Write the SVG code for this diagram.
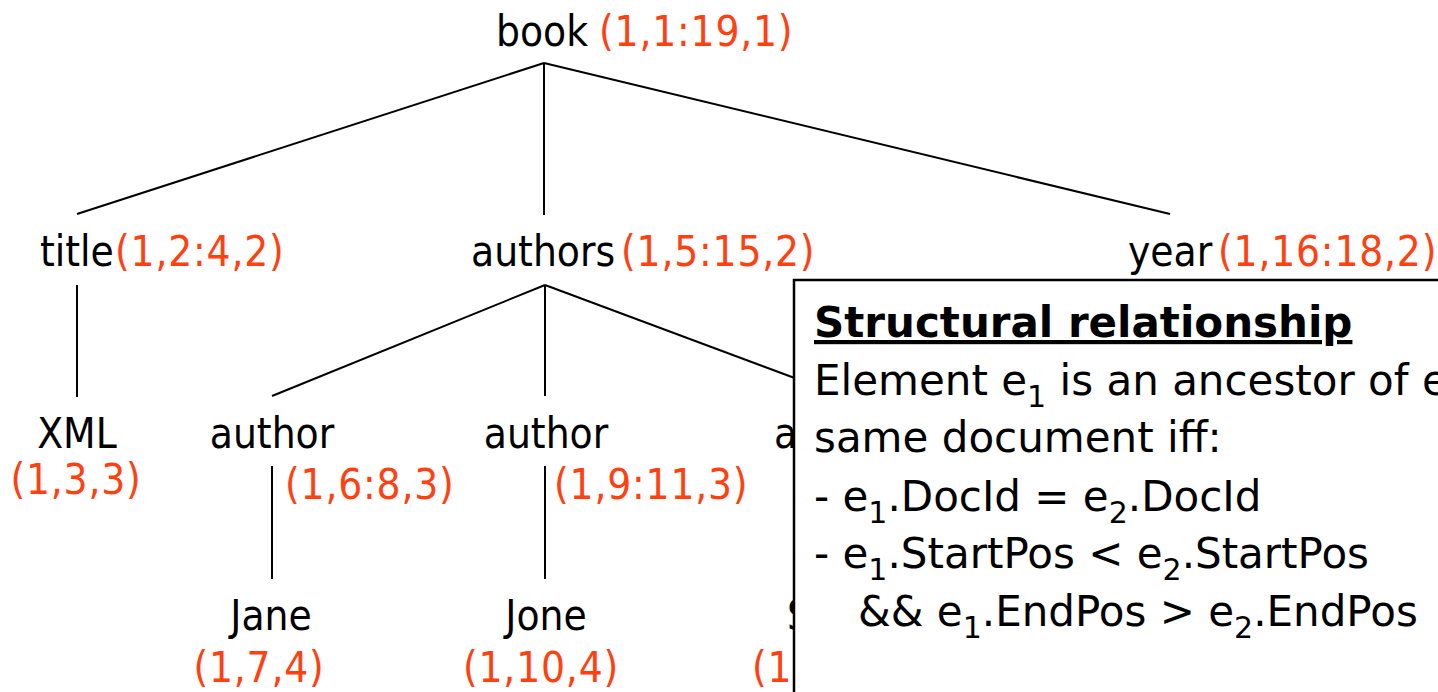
<svg xmlns="http://www.w3.org/2000/svg" width="1438" height="692" viewBox="0 0 1438 692">
  <style>
    text { font-family: "DejaVu Sans Condensed", "DejaVu Sans", "Liberation Sans", sans-serif; font-stretch: condensed; font-size: 42px; fill: #000; }
    .pos { fill: #FF4111; letter-spacing: 0.8px; }
    .edge { stroke: #000; stroke-width: 2; fill: none; }
    .panel { fill: #fff; stroke: #000; stroke-width: 2.5; }
    .panel-text text { font-family: "DejaVu Sans", "Liberation Sans", sans-serif; font-stretch: normal; }
    .sub { font-size: 30px; }
    .head { font-weight: bold; text-decoration: underline; }
  </style>

  <!-- tree edges -->
  <g id="connectors">
    <line class="edge" x1="544" y1="63" x2="77" y2="214"/>
    <line class="edge" x1="544" y1="63" x2="544" y2="215"/>
    <line class="edge" x1="544" y1="63" x2="1170" y2="214"/>
    <line class="edge" x1="77" y1="285" x2="77" y2="397"/>
    <line class="edge" x1="545" y1="285" x2="272" y2="396"/>
    <line class="edge" x1="545" y1="285" x2="545" y2="396"/>
    <line class="edge" x1="545" y1="285" x2="843" y2="396"/>
    <line class="edge" x1="272" y1="466" x2="272" y2="579"/>
    <line class="edge" x1="545" y1="466" x2="545" y2="579"/>
  </g>

  <!-- element nodes: name + (DocId, StartPos:EndPos, Level) -->
  <g id="node-book">
    <text x="496" y="46">book</text>
    <text class="pos" x="599" y="46">(1,1:19,1)</text>
  </g>
  <g id="node-title">
    <text x="40" y="266">title</text>
    <text class="pos" x="115" y="266">(1,2:4,2)</text>
  </g>
  <g id="node-authors">
    <text x="471" y="266">authors</text>
    <text class="pos" x="621" y="266">(1,5:15,2)</text>
  </g>
  <g id="node-year">
    <text x="1128" y="266">year</text>
    <text class="pos" x="1218" y="266">(1,16:18,2)</text>
  </g>
  <g id="node-xml">
    <text x="77" y="448" text-anchor="middle">XML</text>
    <text class="pos" x="76" y="494" text-anchor="middle">(1,3,3)</text>
  </g>
  <g id="node-author-1">
    <text x="272" y="448" text-anchor="middle">author</text>
    <text class="pos" x="285" y="499">(1,6:8,3)</text>
  </g>
  <g id="node-author-2">
    <text x="546" y="448" text-anchor="middle">author</text>
    <text class="pos" x="554" y="499">(1,9:11,3)</text>
  </g>
  <g id="node-jane">
    <text x="271" y="630" text-anchor="middle">Jane</text>
    <text class="pos" x="259" y="682" text-anchor="middle">(1,7,4)</text>
  </g>
  <g id="node-jone">
    <text x="546" y="630" text-anchor="middle">Jone</text>
    <text class="pos" x="541" y="682" text-anchor="middle">(1,10,4)</text>
  </g>
  <!-- third author and its child, mostly behind the panel -->
  <g id="node-author-3">
    <text x="774" y="448">a</text>
  </g>
  <g id="node-author-3-child">
    <text x="787" y="630">S</text>
    <text class="pos" x="752" y="682">(1</text>
  </g>

  <!-- definition panel laid over the right part of the tree -->
  <g id="panel" class="panel-text">
    <rect class="panel" x="794" y="280" width="680" height="440"/>
    <text class="head" x="814" y="337">Structural relationship</text>
    <text x="814" y="395">Element e<tspan class="sub" dy="12">1</tspan><tspan dy="-12"> is an ancestor of e</tspan></text>
    <text x="814" y="452">same document iff:</text>
    <text x="814" y="511">- e<tspan class="sub" dy="12">1</tspan><tspan dy="-12">.DocId = e</tspan><tspan class="sub" dy="12">2</tspan><tspan dy="-12">.DocId</tspan></text>
    <text x="814" y="568">- e<tspan class="sub" dy="12">1</tspan><tspan dy="-12">.StartPos &lt; e</tspan><tspan class="sub" dy="12">2</tspan><tspan dy="-12">.StartPos</tspan></text>
    <text x="858" y="626">&amp;&amp; e<tspan class="sub" dy="12">1</tspan><tspan dy="-12">.EndPos &gt; e</tspan><tspan class="sub" dy="12">2</tspan><tspan dy="-12">.EndPos</tspan></text>
  </g>
</svg>
